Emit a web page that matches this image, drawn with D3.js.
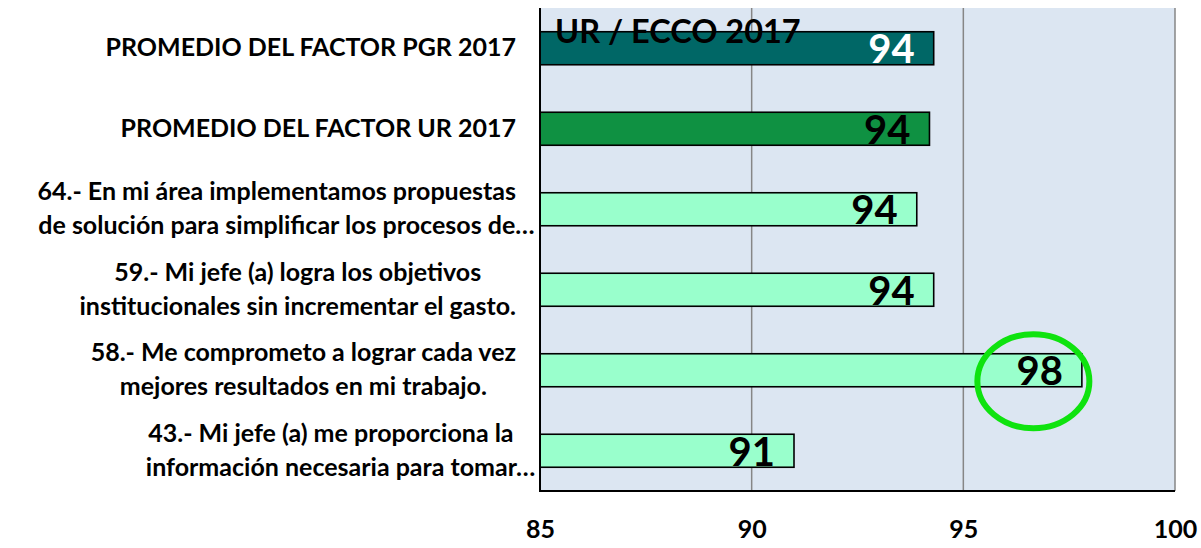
<!DOCTYPE html>
<html>
<head>
<meta charset="utf-8">
<script src="https://cdn.jsdelivr.net/npm/d3@7"></script>
<style>
  html, body { margin: 0; padding: 0; background: #ffffff; }
  svg { display: block; font-family: Lato, "Open Sans", "Liberation Sans", sans-serif; font-weight: bold; }
</style>
</head>
<body>
<svg id="chart" width="1201" height="548"></svg>
<script>
// Category labels (each entry is the list of wrapped lines)
const categories = [
  ["PROMEDIO DEL FACTOR PGR 2017"],
  ["PROMEDIO DEL FACTOR UR 2017"],
  ["64.- En mi área implementamos propuestas", "de solución para simplificar los procesos de…"],
  ["59.- Mi jefe (a) logra los objetivos", "institucionales sin incrementar el gasto."],
  ["58.- Me comprometo a lograr cada vez", "mejores resultados en mi trabajo."],
  ["43.- Mi jefe (a) me proporciona la", "información necesaria para tomar…"]
];
// Score per category
const values = [94.3, 94.2, 93.9, 94.3, 97.8, 91.0];
// Axis ticks
const ticks = [85, 90, 95, 100];
const title = "UR / ECCO 2017";
// Item highlighted with a ring
const highlightIndex = 4;

// Bar fills and label colours
const barColors = ["#006766", "#0F9142", "#99FFCC", "#99FFCC", "#99FFCC", "#99FFCC"];
const labelColors = ["#ffffff", "#000000", "#000000", "#000000", "#000000", "#000000"];

const svg = d3.select("#chart");
const plot = { left: 540, right: 1175, top: 8, bottom: 491 };
const catFont = 25;

const x = d3.scaleLinear().domain([85, 100]).range([plot.left, plot.right]);
const y = d3.scaleBand()
  .domain(d3.range(categories.length))
  .range([plot.top, plot.bottom])
  .paddingInner(0.59)
  .paddingOuter(0.295);

// Plot background
svg.append("rect")
  .attr("x", plot.left).attr("y", plot.top)
  .attr("width", plot.right - plot.left).attr("height", plot.bottom - plot.top)
  .attr("fill", "#DCE6F2");

// Vertical gridlines
svg.append("g")
  .selectAll("line")
  .data(ticks.slice(1))
  .join("line")
  .attr("x1", d => x(d)).attr("x2", d => x(d))
  .attr("y1", plot.top).attr("y2", plot.bottom)
  .attr("stroke", "#868686").attr("stroke-width", 1.5);

// Bars
svg.append("g")
  .selectAll("rect")
  .data(values)
  .join("rect")
  .attr("x", x(85))
  .attr("y", (d, i) => y(i))
  .attr("width", d => x(d) - x(85))
  .attr("height", y.bandwidth())
  .attr("fill", (d, i) => barColors[i])
  .attr("stroke", "#000")
  .attr("stroke-width", 1.6);

// Axis lines (left and bottom)
svg.append("line")
  .attr("x1", plot.left).attr("x2", plot.left)
  .attr("y1", plot.top).attr("y2", plot.bottom)
  .attr("stroke", "#000").attr("stroke-width", 2);
svg.append("line")
  .attr("x1", plot.left - 1).attr("x2", plot.right)
  .attr("y1", plot.bottom).attr("y2", plot.bottom)
  .attr("stroke", "#000").attr("stroke-width", 2);

// Bottom tick labels
const xAxis = d3.axisBottom(x).tickValues(ticks).tickSize(0).tickPadding(0).tickFormat(d3.format("d"));
const gx = svg.append("g").attr("transform", `translate(0, 538)`).call(xAxis);
gx.select(".domain").remove();
gx.selectAll("text")
  .attr("dy", 0)
  .attr("y", 0)
  .attr("font-family", "Lato, 'Open Sans', sans-serif")
  .attr("font-weight", "bold")
  .attr("font-size", 25)
  .attr("fill", "#000");

// Value labels inside bars
svg.append("g")
  .selectAll("text")
  .data(values)
  .join("text")
  .attr("x", d => x(d) - 19)
  .attr("y", (d, i) => y(i) + y.bandwidth() / 2 + 15)
  .attr("text-anchor", "end")
  .attr("font-size", 40)
  .attr("fill", (d, i) => labelColors[i])
  .text(d => d3.format(".0f")(d));

// Category labels, centred line-by-line, block aligned to the axis
const labelRight = 516;
const lineGap = 34;
const gLabels = svg.append("g");
categories.forEach((lines, i) => {
  const cy = y(i) + y.bandwidth() / 2;
  const g = gLabels.append("g");
  const texts = lines.map((ln, k) => g.append("text")
    .attr("font-size", catFont)
    .attr("fill", "#000")
    .attr("text-anchor", "middle")
    .attr("y", cy + (k - (lines.length - 1) / 2) * lineGap + 8)
    .text(ln));
  // Width of each line without a trailing ellipsis
  const widths = texts.map(t => {
    const full = t.node().getComputedTextLength();
    if (t.text().endsWith("…")) {
      const probe = g.append("text").attr("font-size", catFont).text("…");
      const w = probe.node().getComputedTextLength();
      probe.remove();
      return { full, core: full - w };
    }
    return { full, core: full };
  });
  const maxCore = d3.max(widths, w => w.core);
  const cx = labelRight - maxCore / 2;
  texts.forEach((t, k) => {
    const shift = (widths[k].full - widths[k].core) / 2;
    t.attr("x", cx + shift);
  });
});

// Title drawn over the first bar
svg.append("text")
  .attr("x", 555)
  .attr("y", 43)
  .attr("font-size", 32.5)
  .attr("fill", "#000")
  .text(title);

// Ring around the highlighted score
const hv = values[highlightIndex];
svg.append("ellipse")
  .attr("cx", x(hv) - 48.5)
  .attr("cy", y(highlightIndex) + y.bandwidth() / 2 + 11)
  .attr("rx", 56)
  .attr("ry", 47)
  .attr("fill", "none")
  .attr("stroke", "#0FE30F")
  .attr("stroke-width", 6);
</script>
</body>
</html>
